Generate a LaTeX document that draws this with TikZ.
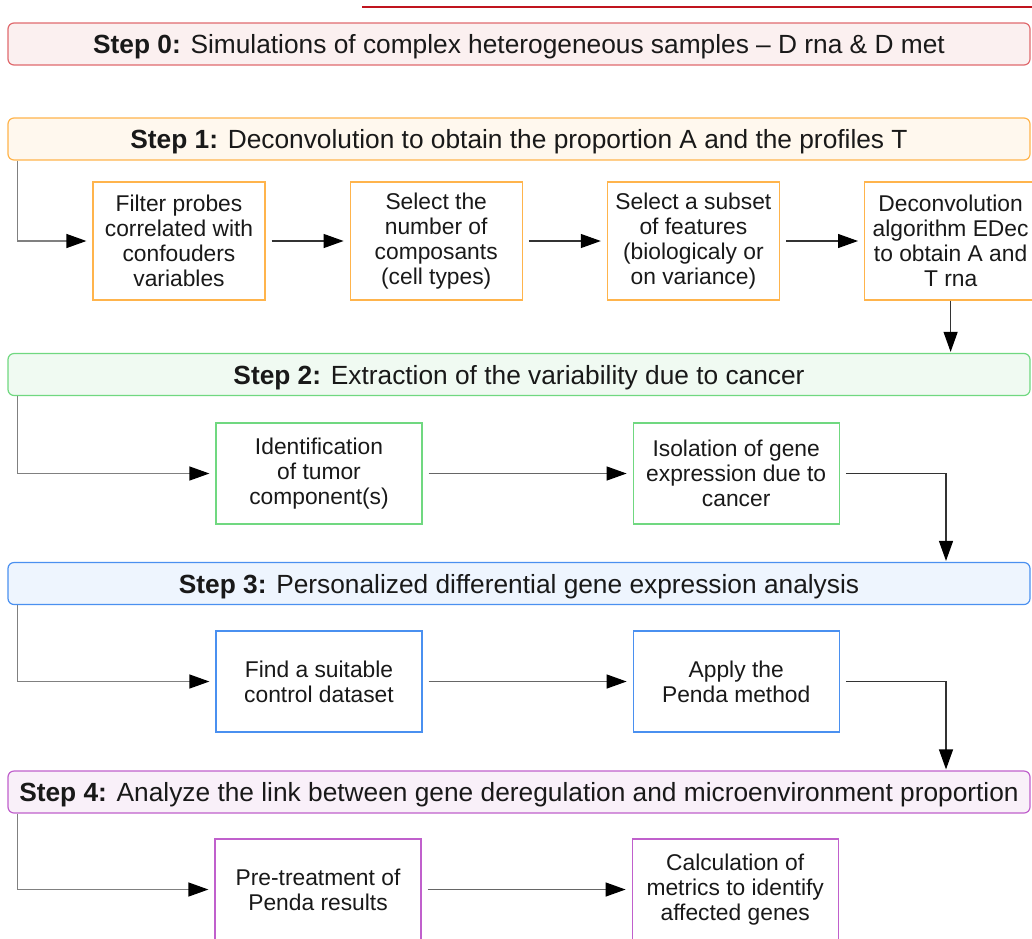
\documentclass[tikz,border=0pt]{standalone}
\usepackage{fontspec}
\setmainfont{Liberation Sans}
\usetikzlibrary{arrows.meta,positioning}
\definecolor{redline}{HTML}{C0141E}
\definecolor{reddraw}{HTML}{E06A6E}
\definecolor{redfill}{HTML}{FBF0F0}
\definecolor{orgdraw}{HTML}{FFB44C}
\definecolor{orgfill}{HTML}{FFF8EE}
\definecolor{grndraw}{HTML}{70D880}
\definecolor{grnfill}{HTML}{F0FAF2}
\definecolor{bludraw}{HTML}{4A90F0}
\definecolor{blufill}{HTML}{EEF5FE}
\definecolor{purdraw}{HTML}{C060CC}
\definecolor{purfill}{HTML}{F9F0F9}

\begin{document}
\begin{tikzpicture}[
  x=1pt, y=-1pt,
  stepbox/.style={draw, rounded corners=6pt, line width=1.2pt, minimum width=1022pt,
                  minimum height=42pt, inner sep=0pt, text height=19pt, text depth=0pt,
                  text=black!90, font=\fontsize{26.3}{30}\selectfont},
  task/.style={draw, line width=1.2pt, fill=white, align=center, inner sep=2pt,
               text=black!90, font=\fontsize{22.8}{25}\selectfont},
  wide/.style={task, minimum width=172pt, minimum height=118pt},
  half/.style={task, minimum width=206pt, minimum height=101pt},
  arr/.style={-{Triangle[length=20pt,width=14pt,black]}, black!80, line width=1.2pt,
              shorten >=6pt, shorten <=6pt},
  feed/.style={arr, gray, shorten <=0pt}
]
\clip (0,0) rectangle (1032,938);

\draw[redline, line width=1.2pt] (362,7) -- (1032,7);

\node[stepbox, draw=reddraw, fill=redfill] (s0) at (519,44)
  {\textbf{Step 0:} Simulations of complex heterogeneous samples \textendash{} D rna \& D met};
\node[stepbox, draw=orgdraw, fill=orgfill] (s1) at (519,139)
  {\textbf{Step 1:} Deconvolution to obtain the proportion A and the profiles T};
\node[stepbox, draw=grndraw, fill=grnfill] (s2) at (519,374.5)
  {\textbf{Step 2:} Extraction of the variability due to cancer};
\node[stepbox, draw=bludraw, fill=blufill] (s3) at (519,583.5)
  {\textbf{Step 3:} Personalized differential gene expression analysis};
\node[stepbox, draw=purdraw, fill=purfill] (s4) at (519,792)
  {\textbf{Step 4:} Analyze the link between gene deregulation and microenvironment proportion};

\node[wide, draw=orgdraw] (f1) at (179,241) {Filter probes\\correlated with\\confouders\\variables};
\node[wide, draw=orgdraw, right=84pt of f1] (f2) {Select the\\number of\\composants\\(cell types)};
\node[wide, draw=orgdraw, right=84pt of f2] (f3) {Select a subset\\of features\\(biologicaly or\\on variance)};
\node[wide, draw=orgdraw, right=84pt of f3] (f4) {Deconvolution\\algorithm EDec\\to obtain A and\\T rna};

\node[half, draw=grndraw] (i1) at (319,473.5) {Identification\\of tumor\\component(s)};
\node[half, draw=grndraw, right=210pt of i1] (i2) {Isolation of gene\\expression due to\\cancer};

\node[half, draw=bludraw] (c1) at (319,681.5) {Find a suitable\\control dataset};
\node[half, draw=bludraw, right=210pt of c1] (c2) {Apply the\\Penda method};

\node[half, draw=purdraw] (p1) at (318,889.5) {Pre-treatment of\\Penda results};
\node[half, draw=purdraw, right=210pt of p1] (p2) {Calculation of\\metrics to identify\\affected genes};

\coordinate (drop) at (946,0);

\draw[feed] ([xshift=10pt]s1.south west) |- (f1.west);
\draw[arr] (f1) -- (f2);
\draw[arr] (f2) -- (f3);
\draw[arr] (f3) -- (f4);
\draw[arr, shorten <=0pt, shorten >=1pt] (f4.south) -- (f4.south |- s2.north);

\draw[feed] ([xshift=10pt]s2.south west) |- (i1.west);
\draw[arr, gray!80!black] (i1) -- (i2);
\draw[arr, shorten >=1pt] (i2.east) -| (drop |- s3.north);

\draw[feed] ([xshift=10pt]s3.south west) |- (c1.west);
\draw[arr, gray!80!black] (c1) -- (c2);
\draw[arr, shorten >=1pt] (c2.east) -| (drop |- s4.north);

\draw[feed] ([xshift=10pt]s4.south west) |- (p1.west);
\draw[arr, gray!80!black] (p1) -- (p2);

\end{tikzpicture}
\end{document}
